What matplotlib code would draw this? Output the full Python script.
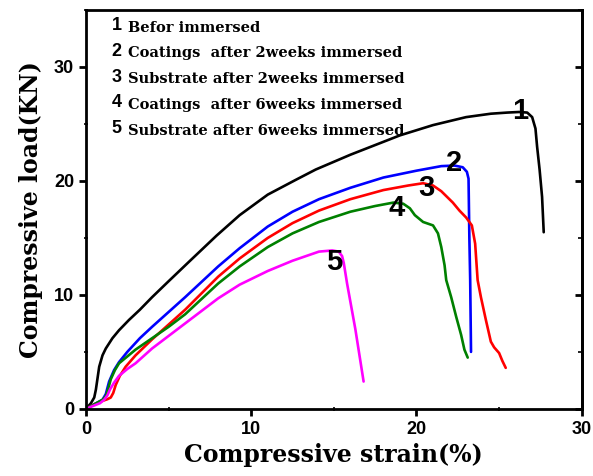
import matplotlib.pyplot as plt
from matplotlib.ticker import MultipleLocator, NullFormatter

# curve data (strain %, load KN)
x1 = [0, 0.3, 0.5, 0.6, 0.7, 0.8, 1.0, 1.2, 1.6, 2.0, 2.6, 3.26, 4.0, 5.0, 6.3, 7.9, 9.3, 11.0, 12.7, 13.9, 16.0, 19.0, 21.0, 23.0, 24.5, 25.5, 26.2, 26.7, 27.0, 27.2, 27.3, 27.45, 27.6, 27.7]
y1 = [0, 0.5, 1.0, 1.7, 2.7, 3.7, 4.7, 5.3, 6.2, 6.9, 7.8, 8.7, 9.8, 11.2, 13.0, 15.2, 17.0, 18.8, 20.1, 21.0, 22.3, 24.0, 24.9, 25.6, 25.9, 26.0, 26.05, 26.0, 25.6, 24.6, 23.0, 21.0, 18.6, 15.5]

x2 = [0, 0.5, 1.0, 1.2, 1.4, 1.7, 2.0, 2.5, 3.26, 4.0, 5.0, 6.0, 8.0, 9.3, 11.0, 12.5, 14.1, 16.0, 18.0, 20.0, 21.5, 22.3, 22.8, 23.05, 23.15, 23.2, 23.25, 23.3]
y2 = [0, 0.4, 0.8, 1.3, 2.4, 3.4, 4.1, 5.0, 6.2, 7.2, 8.5, 9.8, 12.5, 14.1, 16.0, 17.3, 18.4, 19.4, 20.3, 20.9, 21.3, 21.35, 21.2, 20.8, 20.2, 15.0, 11.3, 5.0]

x3 = [0, 0.5, 1.0, 1.3, 1.5, 1.65, 1.8, 2.05, 2.4, 3.0, 4.0, 5.0, 6.0, 8.0, 9.3, 11.0, 12.5, 14.1, 16.0, 18.0, 19.5, 20.4, 21.0, 21.5, 22.2, 22.6, 23.0, 23.35, 23.55, 23.7, 23.9, 24.2, 24.5, 24.7, 25.0, 25.2, 25.4]
y3 = [0, 0.4, 0.7, 0.85, 1.0, 1.4, 2.1, 2.9, 3.7, 4.7, 6.1, 7.4, 8.7, 11.6, 13.2, 15.0, 16.3, 17.4, 18.4, 19.2, 19.6, 19.8, 19.6, 19.1, 18.1, 17.4, 16.8, 16.1, 14.5, 11.3, 9.8, 7.8, 5.9, 5.4, 4.9, 4.2, 3.6]

x4 = [0, 0.5, 1.0, 1.2, 1.35, 1.5, 1.75, 2.0, 2.5, 3.0, 3.9, 5.0, 6.0, 8.0, 9.3, 11.0, 12.5, 14.1, 16.0, 17.5, 18.6, 19.2, 19.6, 19.9, 20.4, 21.0, 21.3, 21.5, 21.7, 21.8, 22.1, 22.4, 22.7, 22.9, 23.1]
y4 = [0, 0.4, 0.8, 1.1, 1.8, 2.6, 3.4, 4.0, 4.6, 5.2, 6.1, 7.2, 8.3, 11.0, 12.5, 14.2, 15.4, 16.4, 17.3, 17.8, 18.1, 18.0, 17.6, 17.0, 16.4, 16.1, 15.4, 14.2, 12.6, 11.3, 9.8, 8.1, 6.5, 5.2, 4.5]

x5 = [0, 0.5, 0.85, 1.1, 1.3, 1.45, 1.7, 2.0, 2.5, 3.0, 4.0, 5.0, 6.0, 8.0, 9.3, 11.0, 12.5, 14.1, 14.9, 15.3, 15.5, 15.6, 15.8, 16.3, 16.8]
y5 = [0, 0.3, 0.5, 0.8, 1.2, 1.7, 2.3, 2.9, 3.5, 4.0, 5.3, 6.4, 7.5, 9.7, 10.9, 12.1, 13.0, 13.8, 13.9, 13.8, 13.4, 12.8, 11.0, 7.0, 2.4]

series_x = [x1, x2, x3, x4, x5]
series_y = [y1, y2, y3, y4, y5]
colors = ['black', 'blue', 'red', 'green', 'magenta']
legend_text = ['Befor immersed', 'Coatings  after 2weeks immersed',
               'Substrate after 2weeks immersed', 'Coatings  after 6weeks immersed',
               'Substrate after 6weeks immersed']
num_pos = [(26.3, 26.1), (22.3, 21.6), (20.6, 19.4), (18.8, 17.6), (15.0, 12.9)]

fig = plt.figure(figsize=(5.93, 4.76), dpi=100)
ax = fig.add_axes([0.145, 0.141, 0.836, 0.838])

for xs, ys, c in zip(series_x, series_y, colors):
    ax.plot(xs, ys, color=c, lw=1.9, solid_capstyle='round', solid_joinstyle='round')

for i, (px, py) in enumerate(num_pos):
    ax.text(px, py, str(i + 1), fontsize=21, fontweight='bold', family='Liberation Sans',
            ha='center', va='center')

for i, t in enumerate(legend_text):
    yy = 0.962 - i * 0.065
    ax.text(0.062, yy, str(i + 1), transform=ax.transAxes, fontsize=13,
            fontweight='bold', family='Liberation Sans', va='center', ha='center')
    ax.text(0.085, yy - 0.006, t, transform=ax.transAxes, fontsize=10.5,
            fontweight='bold', family='DejaVu Serif', va='center', ha='left')

ax.set_xlim(0, 30)
ax.set_ylim(0, 35.0)
ax.xaxis.set_major_locator(MultipleLocator(10))
ax.xaxis.set_minor_locator(MultipleLocator(5))
ax.yaxis.set_major_locator(MultipleLocator(10))
ax.yaxis.set_minor_locator(MultipleLocator(5))
ax.tick_params(which='major', direction='out', length=5, width=2, labelsize=13)
ax.tick_params(which='minor', direction='inout', length=3, width=1.2)
for lab in ax.get_xticklabels() + ax.get_yticklabels():
    lab.set_fontweight('bold')
    lab.set_family('Liberation Sans')
for sp in ax.spines.values():
    sp.set_linewidth(2)

# right side ticks point inward
sec = ax.secondary_yaxis('right')
sec.yaxis.set_major_locator(MultipleLocator(10))
sec.yaxis.set_minor_locator(MultipleLocator(5))
sec.yaxis.set_major_formatter(NullFormatter())
sec.tick_params(which='major', direction='in', length=5, width=2)
sec.tick_params(which='minor', direction='in', length=3, width=1.2)
sec.spines['right'].set_linewidth(2)

ax.set_xlabel('Compressive strain(%)', fontsize=17, fontweight='bold', family='DejaVu Serif', labelpad=4)
ax.set_ylabel('Compressive load(KN)', fontsize=17, fontweight='bold', family='DejaVu Serif', labelpad=8)

fig.savefig('out.png', dpi=100)
